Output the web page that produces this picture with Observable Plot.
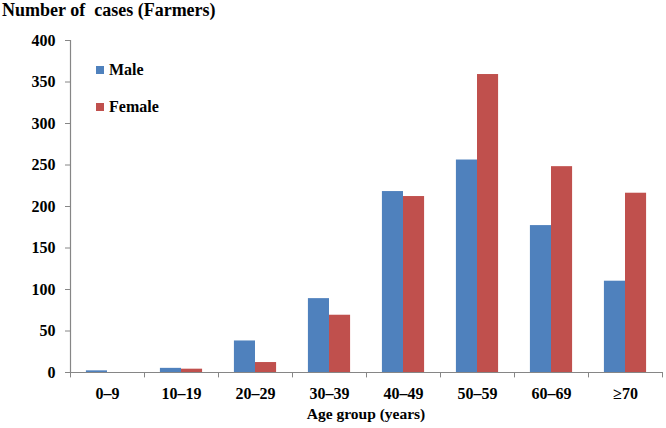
<!DOCTYPE html>
<html>
<head>
<meta charset="utf-8">
<script src="https://cdn.jsdelivr.net/npm/d3@7"></script>
<script src="https://cdn.jsdelivr.net/npm/@observablehq/plot@0.6"></script>
<style>
  html, body { margin: 0; padding: 0; background: #fff; }
  #wrap { position: relative; width: 666px; height: 428px; font-family: "Liberation Serif", "Times New Roman", serif; font-weight: bold; color: #000; }
  #title { position: absolute; left: 2px; top: 0px; font-size: 18px; white-space: pre; line-height: 20px; }
  #xlabel { position: absolute; left: 70px; width: 592px; text-align: center; top: 405px; font-size: 15.5px; line-height: 18px; }
  .leg { position: absolute; left: 96px; font-size: 16px; line-height: 18px; display: flex; align-items: center; }
  .leg span.sw { display: inline-block; width: 8px; height: 8px; margin-right: 5px; }
  #chart svg { position: absolute; left: 0; top: 0; }
  #chart svg, #chart svg text { font-family: "Liberation Serif", "Times New Roman", serif !important; font-weight: bold !important; }
</style>
</head>
<body>
<div id="wrap">
  <div id="chart"></div>
  <div id="title">Number of  cases (Farmers)</div>
  <div id="xlabel">Age group (years)</div>
  <div id="legend"></div>
</div>
<script>
const categories = ["0–9", "10–19", "20–29", "30–39", "40–49", "50–59", "60–69", "≥70"];
const male = [2, 5, 38, 89, 218, 256, 177, 110];
const female = [0, 4, 12, 69, 212, 359, 248, 216];
const series = ["Male", "Female"];
const colors = ["#4F81BD", "#C0504D"];
const yTicks = [0, 50, 100, 150, 200, 250, 300, 350, 400];

const W = 666, H = 428, mL = 70, mR = 4, mT = 40, mB = 56;
const step = (W - mL - mR) / categories.length;
const barW = step * 0.285;
const gap = (step - 2 * barW) / 2;

const data = [];
categories.forEach((c, i) => {
  data.push({age: c, sex: "Male", value: male[i]});
  data.push({age: c, sex: "Female", value: female[i]});
});

const axisColor = "#868686";

const plot = Plot.plot({
  width: W, height: H,
  marginLeft: mL, marginRight: mR, marginTop: mT, marginBottom: mB,
  style: {fontSize: "16px", color: "#000", background: "transparent"},
  x: {type: "band", domain: categories, padding: 0, label: null},
  y: {domain: [0, 400], label: null},
  color: {domain: series, range: colors},
  marks: [
    Plot.barY(data.filter(d => d.sex === "Male"), {x: "age", y: "value", fill: "sex", insetLeft: gap, insetRight: gap + barW}),
    Plot.barY(data.filter(d => d.sex === "Female"), {x: "age", y: "value", fill: "sex", insetLeft: gap + barW, insetRight: gap}),
    Plot.ruleY([0], {stroke: axisColor, strokeWidth: 1.2}),
    Plot.ruleX([categories[0]], {dx: -step / 2, stroke: axisColor, strokeWidth: 1.2}),
    Plot.ruleX(categories, {dx: -step / 2, y1: 0, y2: -6.5, stroke: axisColor}),
    Plot.ruleX([categories[categories.length - 1]], {dx: step / 2, y1: 0, y2: -6.5, stroke: axisColor}),
    Plot.axisY({ticks: yTicks, tickSize: 5, tickPadding: 10, stroke: axisColor, fill: "#000", fontSize: 16, label: null}),
    Plot.axisX({tickSize: 0, tickPadding: 15, fontSize: 16, fill: "#000", label: null})
  ]
});
document.getElementById("chart").appendChild(plot);

const leg = document.getElementById("legend");
const legTops = [61, 98];
series.forEach((s, i) => {
  const d = document.createElement("div");
  d.className = "leg";
  d.style.top = legTops[i] + "px";
  d.innerHTML = `<span class="sw" style="background:${colors[i]}"></span>${s}`;
  leg.appendChild(d);
});
</script>
</body>
</html>
